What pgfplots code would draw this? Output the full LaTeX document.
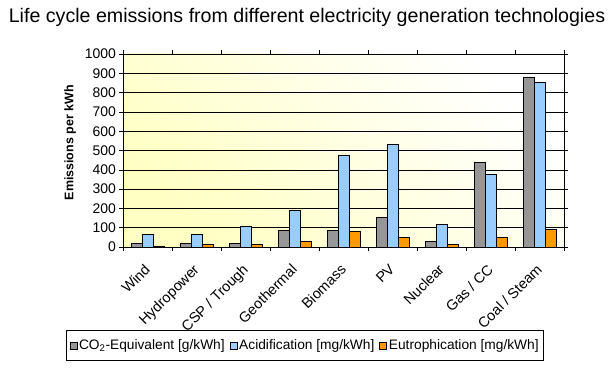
\documentclass[border=0pt]{standalone}
\usepackage{pgfplots}
\pgfplotsset{compat=1.18}
\usepackage{fontspec}
\setmainfont{Liberation Sans}
\definecolor{cogray}{RGB}{150,150,150}
\definecolor{acblue}{RGB}{153,204,255}
\definecolor{euorange}{RGB}{255,153,0}
\definecolor{bgyellow}{RGB}{255,255,196}
\begin{document}
\begin{tikzpicture}
\begin{axis}[
  at={(0,0)}, anchor=south west,
  scale only axis,
  width=441bp, height=193bp,
  xmin=-0.5, xmax=8.5, ymin=0, ymax=1000,
  ybar=0pt, bar width=11bp,
  axis background/.style={bottom color=bgyellow, top color=white, shading angle=-45},
  xtick={0,...,8},
  xticklabels={Wind,Hydropower,CSP / Trough,Geothermal,Biomass,PV,Nuclear,Gas / CC,Coal / Steam},
  x tick label style={yshift=-12bp, xshift=-4bp, rotate=45, anchor=north east, inner sep=0pt, font=\fontsize{14.5}{16}\selectfont},
  major x tick style={draw=none},
  minor xtick={-0.5,0.5,...,8.5},
  minor tick length=4bp,
  ytick={0,100,...,1000},
  ymajorgrids,
  grid style={black, line width=0.6pt},
  tick align=outside,
  major tick length=4bp,
  tick style={black, line width=0.6pt},
  y tick label style={font=\fontsize{14}{16}\selectfont, inner sep=1pt, xshift=-2bp},
  /pgf/number format/assume math mode=true,
  /pgf/number format/set thousands separator={},
  axis line style={line width=0.6pt},
  ylabel={\fontsize{12.5}{14}\selectfont\bfseries Emissions per kWh},
  ylabel style={at={(axis description cs:-0.12,0.54)}, anchor=center},
  legend columns=3,
  legend style={at={(0.413,-0.51)}, anchor=center, draw=black, line width=0.6pt,
    font=\fontsize{13.8}{16}\selectfont, inner xsep=3pt, inner ysep=7.5pt,
    /tikz/every even column/.append style={column sep=3bp}},
  legend image code/.code={\draw[#1, line width=0.5pt] (0bp,-3.5bp) rectangle (7bp,3.5bp);},
  clip=false,
]
\addplot[fill=cogray, draw=black, line width=0.6pt] coordinates {
 (0,17) (1,17) (2,17) (3,85) (4,85) (5,152) (6,28) (7,438) (8,879)};
\addplot[fill=acblue, draw=black, line width=0.6pt] coordinates {
 (0,64) (1,64) (2,105) (3,189) (4,474) (5,531) (6,116) (7,375) (8,853)};
\addplot[fill=euorange, draw=black, line width=0.6pt] coordinates {
 (0,6) (1,12) (2,12) (3,29) (4,80) (5,48) (6,12) (7,48) (8,90)};
\legend{CO\textsubscript{2}-Equivalent [g/kWh],Acidification [mg/kWh],Eutrophication [mg/kWh]}
\end{axis}
\node[font=\fontsize{19.7}{22}\selectfont] at (184bp,230bp) {Life cycle emissions from different electricity generation technologies};
\pgfresetboundingbox
\path (-123bp,-124bp) rectangle (490bp,247bp);
\end{tikzpicture}
\end{document}
